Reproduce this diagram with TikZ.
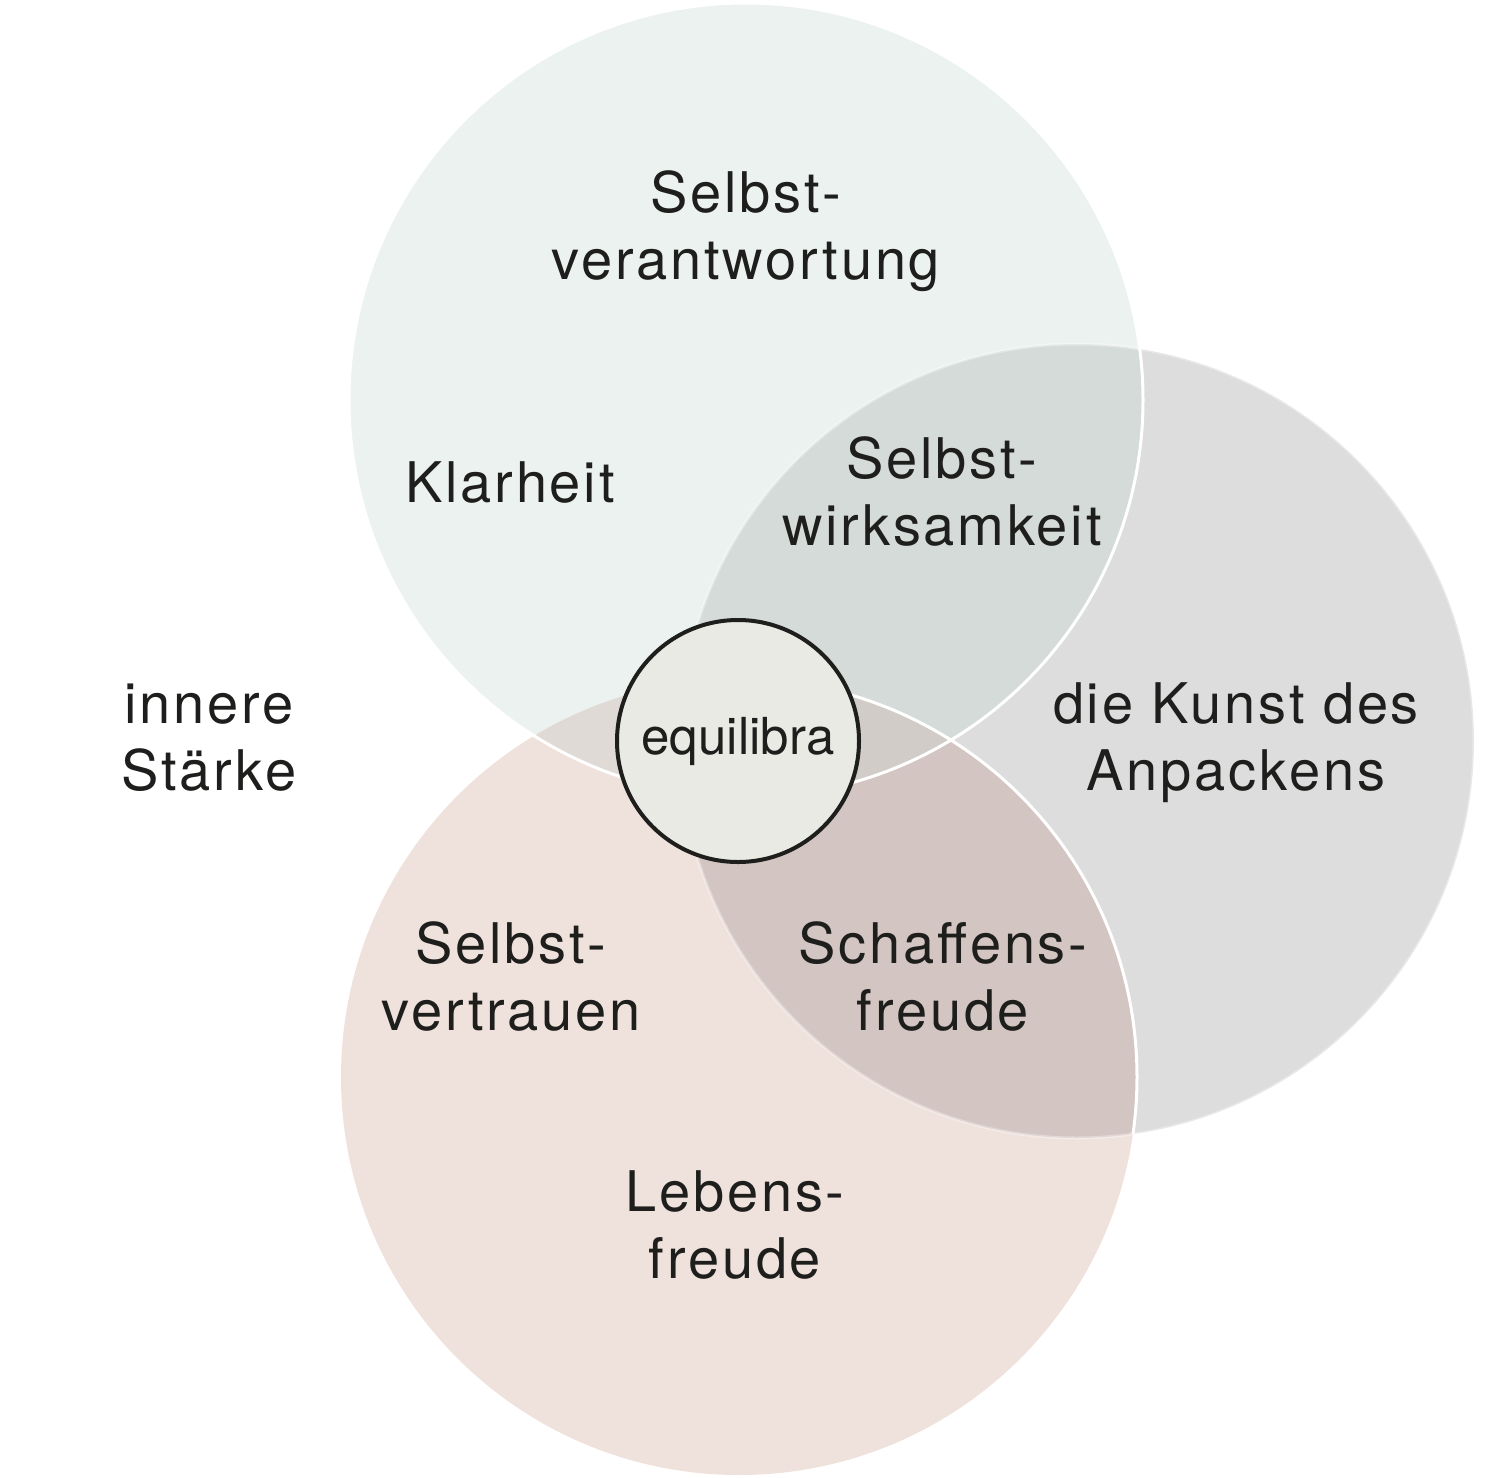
\documentclass[tikz,border=0pt]{standalone}
\usepackage{fontspec}
\setmainfont{TeX Gyre Heros}[LetterSpace=5]
\newfontfamily\eqfont{TeX Gyre Heros}
\definecolor{cTop}{HTML}{ECF2F0}
\definecolor{cRight}{HTML}{DCDDDC}
\definecolor{cBot}{HTML}{EFE1DB}
\definecolor{cTR}{HTML}{D5DBD9}
\definecolor{cRB}{HTML}{D3C5C2}
\definecolor{cTB}{HTML}{E0DAD6}
\definecolor{cTRB}{HTML}{D1CCC7}
\definecolor{cMid}{HTML}{E9EAE4}
\definecolor{ink}{HTML}{1E1E1C}
\newcommand{\twolines}[2]{\begin{tabular}[t]{@{}c@{}}#1\\#2\end{tabular}}
\tikzset{
  lbl/.style={font=\fontsize{56pt}{67pt}\selectfont, text=ink, inner sep=0pt, anchor=base},
  edge/.style={draw=white, line width=3pt},
}
\begin{document}
\begin{tikzpicture}[x=1pt,y=-1pt]
\useasboundingbox (0,0) rectangle (1500,1478);
\coordinate (T) at (746,400);
\coordinate (R) at (1077,741);
\coordinate (B) at (739,1077);
\def\cT{(T) circle[radius=397pt]}
\def\cR{(R) circle[radius=397pt]}
\def\cB{(B) circle[radius=398pt]}
% base fills
\fill[cRight] \cR;
\fill[cBot] \cB;
\fill[cTop] \cT;
% pairwise overlaps
\begin{scope}\clip \cT; \fill[cTR] \cR; \end{scope}
\begin{scope}\clip \cR; \fill[cRB] \cB; \end{scope}
\begin{scope}\clip \cT; \fill[cTB] \cB; \end{scope}
\begin{scope}\clip \cT; \clip \cR; \fill[cTRB] \cB; \end{scope}
% outlines
\draw[edge, opacity=0.35] \cR;
\begin{scope}\clip \cR; \draw[edge] \cB; \end{scope}
\draw[edge] \cT;
% centre
\node[circle, draw=ink, line width=4pt, fill=cMid, minimum size=242pt, inner sep=0pt,
      font=\eqfont\fontsize{51pt}{60pt}\selectfont, text=ink] (eq) at (738,741) {equilibra};
% labels
\node[lbl] (sv) at (746,212) {\twolines{Selbst-}{verantwortung}};
\node[lbl] (kl) at (510,502) {Klarheit};
\node[lbl] (sw) at (942,478) {\twolines{Selbst-}{wirksamkeit}};
\node[lbl] (is) at (209,723) {\twolines{innere}{Stärke}};
\node[lbl] (ka) at (1236,723) {\twolines{die Kunst des}{Anpackens}};
\node[lbl] (st) at (511,963) {\twolines{Selbst-}{vertrauen}};
\node[lbl] (sf) at (943,963) {\twolines{Schaffens-}{freude}};
\node[lbl] (lf) at (735,1211) {\twolines{Lebens-}{freude}};
\end{tikzpicture}
\end{document}
